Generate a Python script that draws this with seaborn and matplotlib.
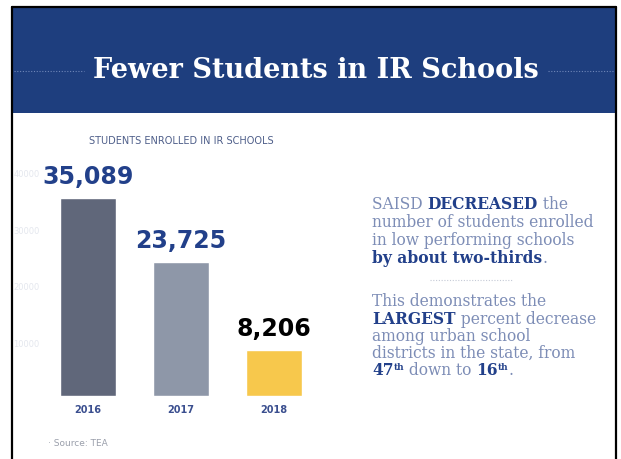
import matplotlib
matplotlib.use("Agg")
import matplotlib.pyplot as plt
import seaborn as sns
import pandas as pd
from matplotlib.patches import Rectangle
from matplotlib.lines import Line2D

# ---- data ----
years = ["2016", "2017", "2018"]
students = [35089, 23725, 8206]
value_labels = ["35,089", "23,725", "8,206"]
faint_ticks = [10000, 20000, 30000, 40000]

title = "Fewer Students in IR Schools"
subtitle = "STUDENTS ENROLLED IN IR SCHOOLS"
source = "· Source: TEA"

W, H = 621, 460
sns.set_theme(style="white")
fig = plt.figure(figsize=(W / 100, H / 100), dpi=100)
fig.patch.set_facecolor("white")

def fx(x):
    return x / W

def fy(y):
    return 1 - y / H

BLUE = "#1e3e7e"
NAVY = "#22408a"
LIGHT = "#7d8db6"

# header band
fig.patches.append(Rectangle((fx(12), fy(114)), fx(616) - fx(12), fy(9) - fy(114),
                             transform=fig.transFigure, facecolor=BLUE, edgecolor="none", zorder=0))
# frame lines
for line in [([fx(12), fx(12)], [fy(8), fy(460)]),
             ([fx(616), fx(616)], [fy(8), fy(460)]),
             ([fx(12), fx(616)], [fy(8), fy(8)])]:
    fig.lines.append(Line2D(line[0], line[1], transform=fig.transFigure, color="black", lw=1.6, zorder=5))
# dotted lines by title
fig.lines.append(Line2D([fx(14), fx(84)], [fy(72), fy(72)], transform=fig.transFigure,
                        color="#6f86b8", lw=0.8, ls=(0, (1, 1.5))))
fig.lines.append(Line2D([fx(548), fx(614)], [fy(72), fy(72)], transform=fig.transFigure,
                        color="#6f86b8", lw=0.8, ls=(0, (1, 1.5))))
fig.text(fx(316), fy(71), title, color="white", fontsize=19.5, fontweight="bold",
         family="DejaVu Serif", ha="center", va="center")

# ---- bar chart ----
ax = fig.add_axes([fx(32), fy(397), fx(330) - fx(32), fy(149) - fy(397)])
df = pd.DataFrame({"year": years, "students": students})
sns.barplot(data=df, x="year", y="students", hue="year",
            palette=["#60677a", "#8e97a8", "#f7c84c"], width=0.6,
            legend=False, ax=ax, saturation=1)
ax.set_xlim(-0.6, 2.6)
ax.set_ylim(0, 44000)
ax.set_facecolor("none")
for s in ax.spines.values():
    s.set_visible(False)
ax.set_xlabel("")
ax.set_ylabel("")
ax.set_yticks([])
ax.tick_params(axis="x", length=0, pad=6)
ax.set_xticks(range(len(years)))
ax.set_xticklabels(years, color="#3b4f8f", fontsize=7, fontweight="bold")
for i, (v, lab) in enumerate(zip(students, value_labels)):
    ax.text(i, v + 1800, lab, ha="center", va="bottom", fontsize=17, fontweight="bold",
            color="black" if i == 2 else NAVY)
for t in faint_ticks:
    ax.text(0.025, t - 600, f"{t}", ha="right", va="center", fontsize=6, color="#e4e7ee",
            transform=ax.get_yaxis_transform(), zorder=0)

fig.text(fx(181), fy(141), subtitle, ha="center", va="center", fontsize=7, color="#4f5f8a")
fig.text(fx(48), fy(444), source, ha="left", va="center", fontsize=6.5, color="#9a9fab")

# ---- right text block ----
renderer = fig.canvas.get_renderer()

def rich_line(x, y, pieces, size=11.2):
    cx = x
    for txt, bold, sup in pieces:
        t = fig.text(fx(cx), fy(y - (5 if sup else 0)), txt,
                     fontsize=(6.5 if sup else size), family="DejaVu Serif",
                     fontweight=("bold" if bold else "normal"),
                     color=(NAVY if bold else LIGHT), ha="left", va="baseline")
        bb = t.get_window_extent(renderer=renderer)
        cx += bb.width

X0 = 372
rich_line(X0, 209, [("SAISD ", False, False), ("DECREASED", True, False), (" the", False, False)])
rich_line(X0, 227, [("number of students enrolled", False, False)])
rich_line(X0, 245, [("in low performing schools", False, False)])
rich_line(X0, 263, [("by about two-thirds", True, False), (".", False, False)])

fig.lines.append(Line2D([fx(430), fx(512)], [fy(281), fy(281)], transform=fig.transFigure,
                        color="#c5cad6", lw=0.8, ls=(0, (1, 1.5))))

rich_line(X0, 306, [("This demonstrates the", False, False)])
rich_line(X0, 324, [("LARGEST", True, False), (" percent decrease", False, False)])
rich_line(X0, 341, [("among urban school", False, False)])
rich_line(X0, 358, [("districts in the state, from", False, False)])
rich_line(X0, 375, [("47", True, False), ("th", True, True), (" down to ", False, False),
                    ("16", True, False), ("th", True, True), (".", False, False)])

fig.savefig("out.png", dpi=100, facecolor="white")
